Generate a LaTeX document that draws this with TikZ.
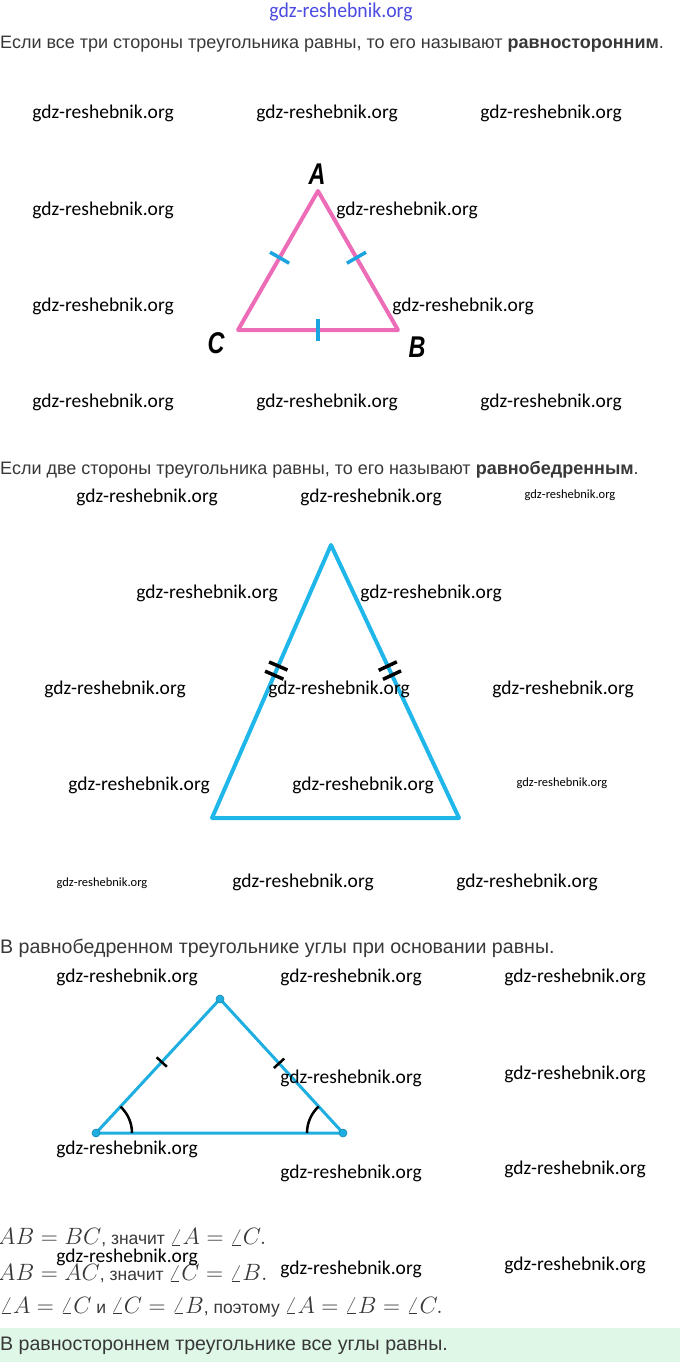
\RequirePackage{fix-cm}
\documentclass[tikz,border=0pt]{standalone}
\usepackage{fontspec}
\setmainfont{Liberation Sans}
\newfontfamily\txfont{Liberation Sans}
\newfontfamily\wmfont{Carlito}
\usetikzlibrary{calc}
\definecolor{txtgray}{HTML}{383838}
\definecolor{pinkc}{HTML}{EC6CB8}
\definecolor{tickblue}{HTML}{1BA4E0}
\definecolor{cyanc}{HTML}{1FB6EA}
\definecolor{cyand}{HTML}{1EAEDF}
\definecolor{greenbg}{HTML}{DFF7E7}
\definecolor{wmblue}{HTML}{4B4BE0}
\newcommand{\tw}[1]{{\txfont\fontsize{17.5}{20}\selectfont #1}}
\tikzset{
  tx/.style={anchor=west, inner sep=0pt, text=txtgray, font=\fontsize{18}{20}\selectfont\txfont},
  txb/.style={anchor=west, inner sep=0pt, text=txtgray, font=\fontsize{19.6}{22}\selectfont\txfont},
  mth/.style={anchor=west, inner sep=0pt, text=txtgray, font=\fontsize{23.6}{26}\selectfont},
  wm/.style={inner sep=0pt, text=black, font=\wmfont\fontsize{19.5}{22}\selectfont},
  wms/.style={inner sep=0pt, text=black, font=\wmfont\fontsize{12.5}{14}\selectfont},
  vlab/.style={inner sep=0pt, text=black, font=\txfont\bfseries\itshape\fontsize{30}{32}\selectfont, xscale=0.78},
  tickb/.style={draw=tickblue, line width=3.5pt},
  tickk/.style={draw=black, line width=3.5pt},
  ticks/.style={draw=black, line width=2.5pt},
  vdot/.style={circle, fill=cyand, draw=cyand!80!black, line width=0.6pt, minimum size=8pt, inner sep=0pt}
}
\begin{document}
\begin{tikzpicture}[x=1pt,y=-1pt]
\useasboundingbox (0,0) rectangle (680,1362);
\fill[greenbg] (0,1328) rectangle (680,1362);

% top watermark
\node[inner sep=0pt, text=wmblue, font=\wmfont\fontsize{21}{22}\selectfont, xscale=0.94] (topwm) at (341,12) {gdz-reshebnik.org};

% texts
\node[tx] (t1) at (0,44) {Если все три стороны треугольника равны, то его называют \textbf{равносторонним}.};
\node[tx] (t2) at (0,470) {Если две стороны треугольника равны, то его называют \textbf{равнобедренным}.};
\node[txb] (t3) at (0,948) {В равнобедренном треугольнике углы при основании равны.};
\node[mth] (m1) at (-2,1238) {$AB=BC$\tw{, значит }$\angle A=\angle C.$};
\node[mth] (m2) at (-2,1274) {$AB=AC$\tw{, значит }$\angle C=\angle B.$};
\node[mth] (m3) at (0,1307) {$\angle A=\angle C$\tw{ и }$\angle C=\angle B$\tw{, поэтому }$\angle A=\angle B=\angle C.$};
\node[txb] (t4) at (0,1346) {В равностороннем треугольнике все углы равны.};

% triangle 1
\coordinate (A1) at (318,191);
\coordinate (C1) at (238,330);
\coordinate (B1) at (398,330);
\draw[pinkc, line width=4pt, line join=round] (A1) -- (B1) -- (C1) -- cycle;
\draw[tickb] ($(C1)!0.52!(A1)!11pt!90:(A1)$) -- ($(C1)!0.52!(A1)!11pt!-90:(A1)$);
\draw[tickb] ($(B1)!0.52!(A1)!11pt!90:(A1)$) -- ($(B1)!0.52!(A1)!11pt!-90:(A1)$);
\draw[tickb] ($(C1)!0.5!(B1)!11pt!90:(B1)$) -- ($(C1)!0.5!(B1)!11pt!-90:(B1)$);
\node[vlab] (lA) at (317,174) {A};
\node[vlab] (lC) at (216,343) {C};
\node[vlab] (lB) at (417,347) {B};

% triangle 2
\coordinate (A2) at (331,545);
\coordinate (L2) at (212,818);
\coordinate (R2) at (459,818);
\draw[cyanc, line width=4pt, line join=round] (A2) -- (R2) -- (L2) -- cycle;
\coordinate (mL) at ($(L2)!0.54!(A2)$);
\coordinate (mR) at ($(R2)!0.54!(A2)$);
\foreach \s in {-5,5} {
  \draw[tickk] ($(mL)!\s pt!(A2)!10pt!90:(A2)$) -- ($(mL)!\s pt!(A2)!10pt!-90:(A2)$);
  \draw[tickk] ($(mR)!\s pt!(A2)!10pt!90:(A2)$) -- ($(mR)!\s pt!(A2)!10pt!-90:(A2)$);
}

% triangle 3
\coordinate (A3) at (220,999);
\coordinate (L3) at (96,1133);
\coordinate (R3) at (343,1133);
\draw[cyand, line width=3pt, line join=round] (A3) -- (R3) -- (L3) -- cycle;
\draw[ticks] ($(L3)!0.53!(A3)!7pt!90:(A3)$) -- ($(L3)!0.53!(A3)!7pt!-90:(A3)$);
\draw[ticks] ($(R3)!0.52!(A3)!7pt!90:(A3)$) -- ($(R3)!0.52!(A3)!7pt!-90:(A3)$);
\draw[black, line width=2.5pt] ($(L3)+(36,0)$) arc[start angle=0, end angle=-47.2, radius=36];
\draw[black, line width=2.5pt] ($(R3)+(-36,0)$) arc[start angle=180, end angle=227.5, radius=36];
\node[vdot] (dA) at (A3) {};
\node[vdot] (dL) at (L3) {};
\node[vdot] (dR) at (R3) {};

% watermarks
\node[wm] (w1) at (103,113) {gdz-reshebnik.org};
\node[wm] (w2) at (327,113) {gdz-reshebnik.org};
\node[wm] (w3) at (551,113) {gdz-reshebnik.org};
\node[wm] (w4) at (103,210) {gdz-reshebnik.org};
\node[wm] (w5) at (407,210) {gdz-reshebnik.org};
\node[wm] (w6) at (103,306) {gdz-reshebnik.org};
\node[wm] (w7) at (463,306) {gdz-reshebnik.org};
\node[wm] (w8) at (103,402) {gdz-reshebnik.org};
\node[wm] (w9) at (327,402) {gdz-reshebnik.org};
\node[wm] (w10) at (551,402) {gdz-reshebnik.org};
\node[wm] (w11) at (147,497) {gdz-reshebnik.org};
\node[wm] (w12) at (371,497) {gdz-reshebnik.org};
\node[wms] (w13) at (570,495) {gdz-reshebnik.org};
\node[wm] (w14) at (207,593) {gdz-reshebnik.org};
\node[wm] (w15) at (431,593) {gdz-reshebnik.org};
\node[wm] (w16) at (115,689) {gdz-reshebnik.org};
\node[wm] (w17) at (339,689) {gdz-reshebnik.org};
\node[wm] (w18) at (563,689) {gdz-reshebnik.org};
\node[wm] (w19) at (139,785) {gdz-reshebnik.org};
\node[wm] (w20) at (363,785) {gdz-reshebnik.org};
\node[wms] (w21) at (562,783) {gdz-reshebnik.org};
\node[wms] (w22) at (102,883) {gdz-reshebnik.org};
\node[wm] (w23) at (303,882) {gdz-reshebnik.org};
\node[wm] (w24) at (527,882) {gdz-reshebnik.org};
\node[wm] (w25) at (127,977) {gdz-reshebnik.org};
\node[wm] (w26) at (351,977) {gdz-reshebnik.org};
\node[wm] (w27) at (575,977) {gdz-reshebnik.org};
\node[wm] (w28) at (351,1078) {gdz-reshebnik.org};
\node[wm] (w29) at (575,1074) {gdz-reshebnik.org};
\node[wm] (w30) at (127,1149) {gdz-reshebnik.org};
\node[wm] (w31) at (351,1173) {gdz-reshebnik.org};
\node[wm] (w32) at (575,1169) {gdz-reshebnik.org};
\node[wm] (w33) at (127,1257) {gdz-reshebnik.org};
\node[wm] (w34) at (351,1269) {gdz-reshebnik.org};
\node[wm] (w35) at (575,1265) {gdz-reshebnik.org};
\end{tikzpicture}
\end{document}
